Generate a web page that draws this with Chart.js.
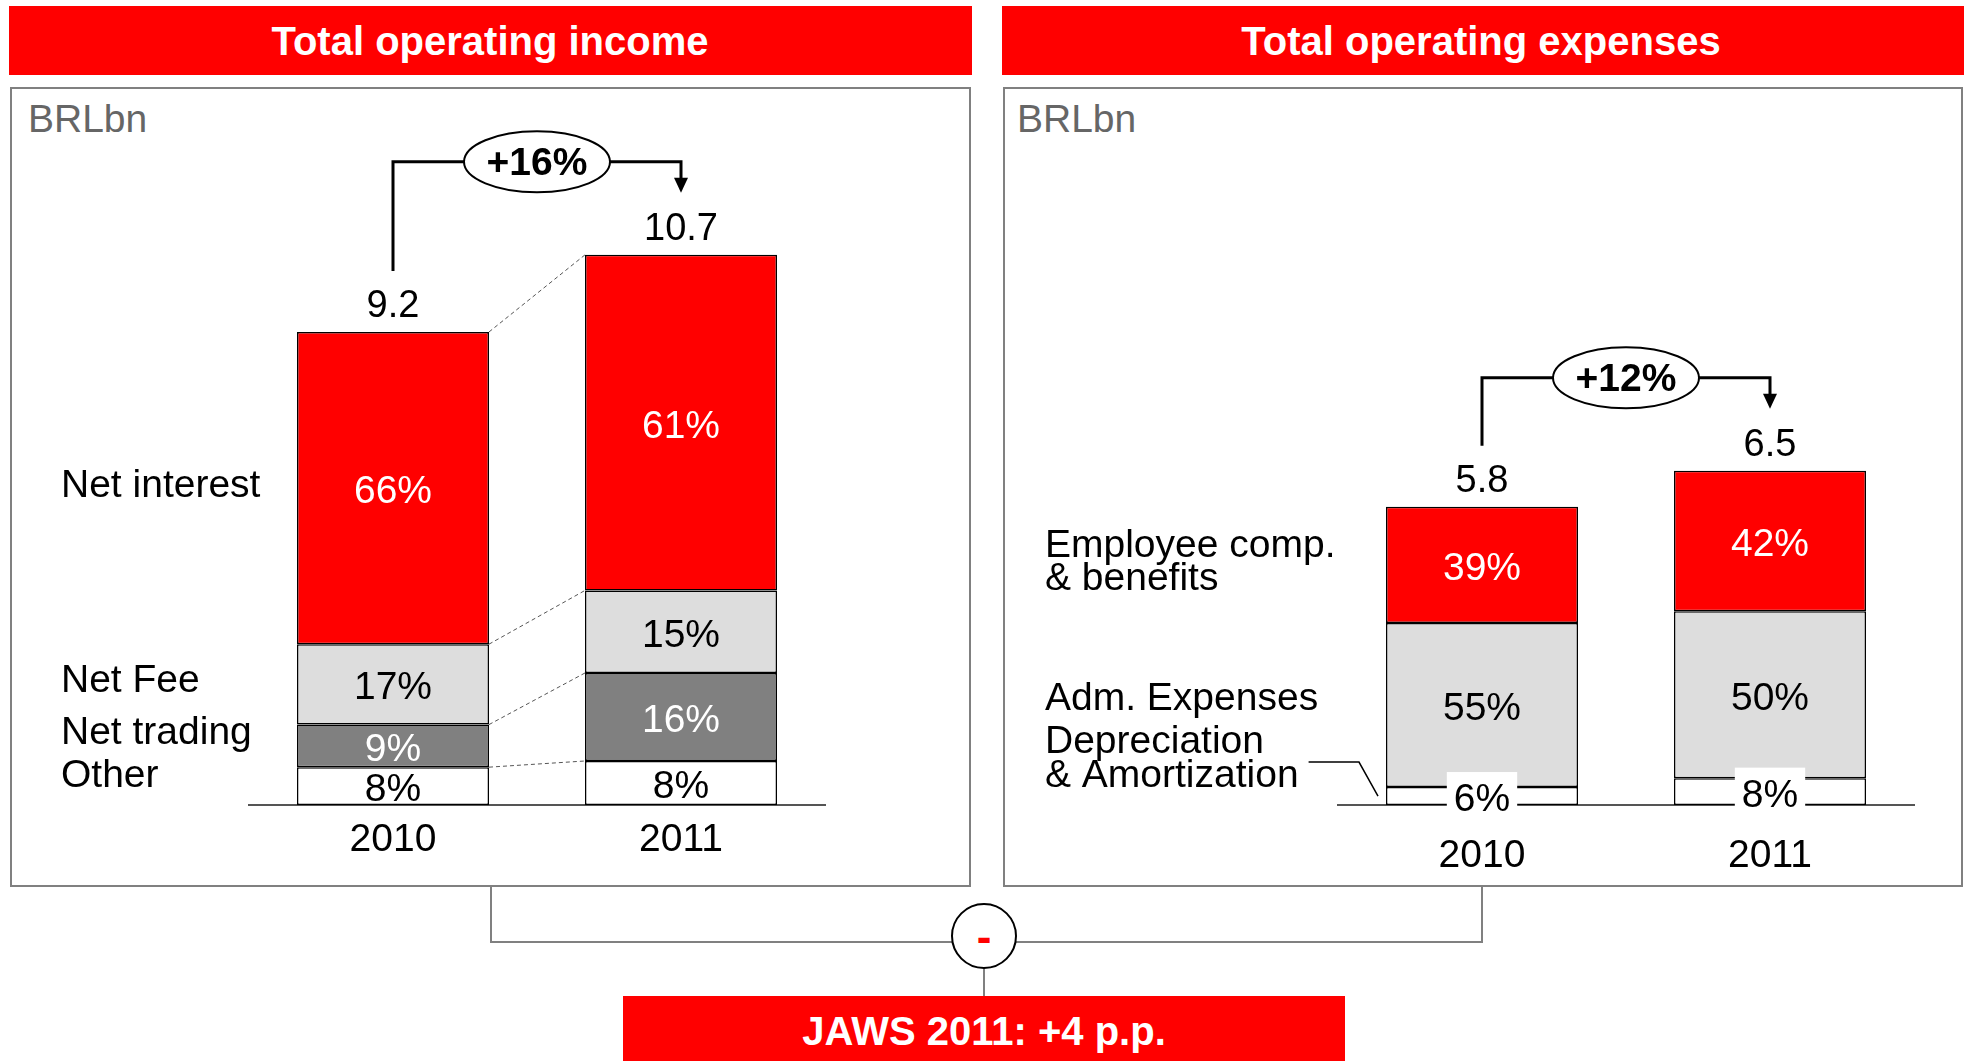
<!DOCTYPE html>
<html>
<head>
<meta charset="utf-8">
<title>Total operating income / expenses</title>
<script src="https://cdn.jsdelivr.net/npm/chart.js@4.4.1/dist/chart.umd.min.js"></script>
<style>
  body { margin: 0; background: #fff; }
  #page { position: relative; width: 1968px; height: 1061px; overflow: hidden; }
  #frame, canvas { position: absolute; }
  #frame { left: 0; top: 0; }
  #incomeChart { left: 10px; top: 87px; }
  #expenseChart { left: 1003px; top: 87px; }
  text { font-family: "Liberation Sans", Arial, sans-serif; }
</style>
</head>
<body>
<div id="page">
  <svg id="frame" width="1968" height="1061">
    <rect x="9" y="6" width="963" height="69" fill="#ff0000"/>
    <text x="490" y="55" text-anchor="middle" font-size="40" font-weight="bold" fill="#fff">Total operating income</text>
    <rect x="1002" y="6" width="962" height="69" fill="#ff0000"/>
    <text x="1481" y="55" text-anchor="middle" font-size="40" font-weight="bold" fill="#fff">Total operating expenses</text>

    <rect x="11" y="88" width="959" height="798" fill="none" stroke="#808080" stroke-width="2"/>
    <rect x="1004" y="88" width="958" height="798" fill="none" stroke="#808080" stroke-width="2"/>
    <text x="28" y="132" font-size="39" fill="#666">BRLbn</text>
    <text x="1017" y="132" font-size="39" fill="#666">BRLbn</text>

    <!-- income minus expenses connector -->
    <g stroke="#808080" stroke-width="2" fill="none">
      <polyline points="491,887 491,942 952,942"/>
      <polyline points="1016,942 1482,942 1482,887"/>
      <line x1="984" y1="968" x2="984" y2="996"/>
    </g>
    <circle cx="984" cy="936" r="32" fill="#fff" stroke="#000" stroke-width="2"/>
    <text x="984" y="952" text-anchor="middle" font-size="44" font-weight="bold" fill="#ff0000">-</text>

    <rect x="623" y="996" width="722" height="70" fill="#ff0000"/>
    <text x="984" y="1045" text-anchor="middle" font-size="40" font-weight="bold" fill="#fff">JAWS 2011: +4 p.p.</text>
  </svg>
  <canvas id="incomeChart" width="961" height="800"></canvas>
  <canvas id="expenseChart" width="961" height="800"></canvas>
</div>
<script>
const years = ['2010', '2011'];

// operating income, BRL bn, and share of each line (%)
const incomeTotals = [9.2, 10.7];
const netInterestPct = [66, 61];
const netFeePct = [17, 15];
const netTradingPct = [9, 16];
const otherIncomePct = [8, 8];
const incomeGrowth = '+16%';

// operating expenses, BRL bn, and share of each line (%)
const expenseTotals = [5.8, 6.5];
const employeePct = [39, 42];
const admPct = [55, 50];
const depreciationPct = [6, 8];
const expenseGrowth = '+12%';

const RED = '#ff0000';
const LIGHT = '#dddddd';
const DARK = '#808080';
const FONT = '"Liberation Sans", Arial, sans-serif';

Chart.defaults.font.family = FONT;

function font(px, bold) {
  return (bold ? 'bold ' : '') + px + 'px ' + FONT;
}

// parts are given top to bottom; chart.js stacks from the first dataset upwards
function stackSets(totals, parts) {
  return parts.slice().reverse().map(p => ({
    label: p.lines.join(' '),
    data: totals.map((t, i) => t * p.pct[i] / 100),
    pct: p.pct,
    lines: p.lines,
    nameDy: p.nameDy,
    textColor: p.text,
    boxed: !!p.boxed,
    leader: !!p.leader,
    backgroundColor: p.fill,
    borderColor: '#000',
    borderWidth: 1.5,
    borderSkipped: false,
    categoryPercentage: 2 / 3,
    barPercentage: 1
  }));
}

const callouts = {
  id: 'callouts',
  afterDraw(chart, args, opts) {
    const ctx = chart.ctx;
    const sets = chart.data.datasets;
    const bars = sets.map((d, i) => chart.getDatasetMeta(i).data);
    const top = bars[bars.length - 1];
    ctx.save();

    // dashed links between the segment edges of the two columns
    if (opts.links) {
      ctx.strokeStyle = '#555';
      ctx.lineWidth = 1;
      ctx.setLineDash([4, 3]);
      bars.forEach(col => {
        const a = col[0], b = col[1];
        ctx.beginPath();
        ctx.moveTo(a.x + a.width / 2, a.y);
        ctx.lineTo(b.x - b.width / 2, b.y);
        ctx.stroke();
      });
      ctx.setLineDash([]);
    }

    // shares inside the segments
    ctx.textAlign = 'center';
    ctx.font = font(39);
    sets.forEach((d, i) => {
      bars[i].forEach((el, j) => {
        const txt = d.pct[j] + '%';
        const y = (el.y + el.base) / 2 + 15;
        if (d.boxed) {
          const w = ctx.measureText(txt).width + 14;
          ctx.fillStyle = '#fff';
          ctx.fillRect(el.x - w / 2, y - 39, w, 41);
        }
        ctx.fillStyle = d.textColor;
        ctx.fillText(txt, el.x, y);
      });
    });

    // column totals
    ctx.fillStyle = '#000';
    ctx.font = font(38);
    top.forEach((el, j) => ctx.fillText(opts.totals[j].toFixed(1), el.x, el.y - 15));

    // segment names on the left, lined up with the first column
    ctx.textAlign = 'left';
    ctx.font = font(39);
    sets.forEach((d, i) => {
      const el = bars[i][0];
      const cy = (el.y + el.base) / 2;
      d.lines.forEach((line, k) => ctx.fillText(line, opts.nameX, cy + d.nameDy[k]));
      if (d.leader) {
        const last = d.lines[d.lines.length - 1];
        const sx = opts.nameX + ctx.measureText(last).width + 10;
        const left = el.x - el.width / 2;
        ctx.strokeStyle = '#000';
        ctx.lineWidth = 1.5;
        ctx.beginPath();
        ctx.moveTo(sx, cy - 34);
        ctx.lineTo(left - 27, cy - 34);
        ctx.lineTo(left - 8, cy);
        ctx.stroke();
      }
    });

    // growth bracket with arrow
    const a = top[0], b = top[1];
    const yB = Math.min(a.y, b.y) - 93;
    const xm = (a.x + b.x) / 2;
    ctx.strokeStyle = '#000';
    ctx.lineWidth = 3;
    ctx.beginPath();
    ctx.moveTo(a.x, a.y - 61);
    ctx.lineTo(a.x, yB);
    ctx.lineTo(xm - 73, yB);
    ctx.moveTo(xm + 73, yB);
    ctx.lineTo(b.x, yB);
    ctx.lineTo(b.x, yB + 18);
    ctx.stroke();
    ctx.fillStyle = '#000';
    ctx.beginPath();
    ctx.moveTo(b.x - 7, yB + 16);
    ctx.lineTo(b.x + 7, yB + 16);
    ctx.lineTo(b.x, yB + 31);
    ctx.closePath();
    ctx.fill();
    ctx.lineWidth = 2;
    ctx.fillStyle = '#fff';
    ctx.beginPath();
    ctx.ellipse(xm, yB, 73, 30.5, 0, 0, Math.PI * 2);
    ctx.fill();
    ctx.stroke();
    ctx.fillStyle = '#000';
    ctx.textAlign = 'center';
    ctx.font = font(39, true);
    ctx.fillText(opts.growth, xm, yB + 13);

    ctx.restore();
  }
};

function makeChart(id, datasets, pad, tickPad, extra) {
  return new Chart(document.getElementById(id), {
    type: 'bar',
    data: { labels: years, datasets },
    options: {
      responsive: false,
      animation: false,
      layout: { padding: { left: pad[0], right: pad[1], top: 101, bottom: 0 } },
      plugins: {
        legend: { display: false },
        tooltip: { enabled: false },
        callouts: extra
      },
      scales: {
        x: {
          stacked: true,
          grid: { display: false, drawTicks: false },
          border: { display: true, color: '#555', width: 2 },
          ticks: { color: '#000', font: { size: 39 }, padding: tickPad },
          afterFit: s => { s.height = 82; }
        },
        y: { stacked: true, display: false, min: 0, max: 12 }
      }
    },
    plugins: [callouts]
  });
}

makeChart('incomeChart', stackSets(incomeTotals, [
  { lines: ['Net interest'], pct: netInterestPct, fill: RED, text: '#fff', nameDy: [9] },
  { lines: ['Net Fee'], pct: netFeePct, fill: LIGHT, text: '#000', nameDy: [8] },
  { lines: ['Net trading'], pct: netTradingPct, fill: DARK, text: '#fff', nameDy: [-2] },
  { lines: ['Other'], pct: otherIncomePct, fill: '#fff', text: '#000', nameDy: [1] }
]), [239, 146], 12, { links: true, totals: incomeTotals, growth: incomeGrowth, nameX: 51 });

makeChart('expenseChart', stackSets(expenseTotals, [
  { lines: ['Employee comp.', '& benefits'], pct: employeePct, fill: RED, text: '#fff', nameDy: [-8, 25] },
  { lines: ['Adm. Expenses'], pct: admPct, fill: LIGHT, text: '#000', nameDy: [5] },
  { lines: ['Depreciation', '& Amortization'], pct: depreciationPct, fill: '#fff', text: '#000', nameDy: [-43, -9], boxed: true, leader: true }
]), [335, 50], 28, { links: false, totals: expenseTotals, growth: expenseGrowth, nameX: 42 });
</script>
</body>
</html>
